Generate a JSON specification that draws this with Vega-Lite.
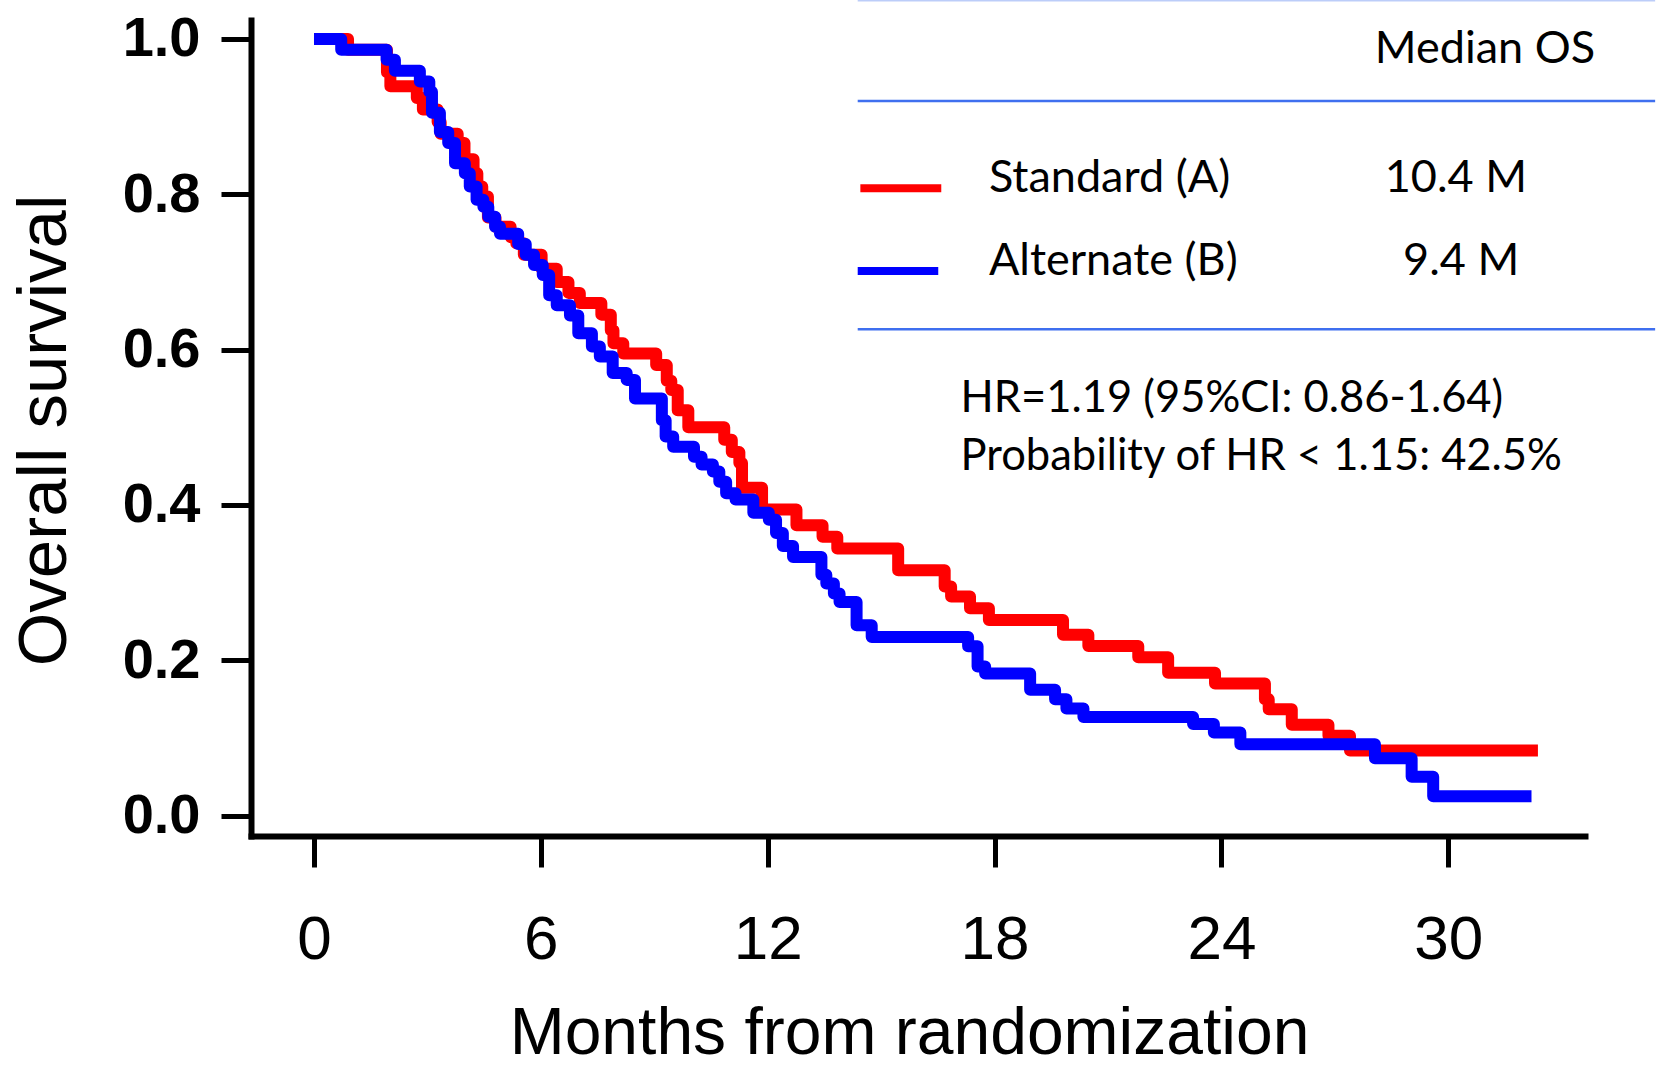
{
  "$schema": "https://vega.github.io/schema/vega-lite/v6.json",
  "autosize": {"type": "none"},
  "padding": {"left": 251, "top": 20, "right": 78, "bottom": 234},
  "width": 1334,
  "height": 816,
  "background": "white",
  "config": {"view": {"stroke": null}},
  "datasets": {
    "red": [
      {"t": 0, "s": 1.0}, {"t": 0.90, "s": 0.986}, {"t": 1.93, "s": 0.957}, {"t": 2.02, "s": 0.939},
      {"t": 2.72, "s": 0.924}, {"t": 2.88, "s": 0.909}, {"t": 3.27, "s": 0.893}, {"t": 3.35, "s": 0.878},
      {"t": 3.80, "s": 0.866}, {"t": 3.98, "s": 0.845}, {"t": 4.22, "s": 0.827}, {"t": 4.32, "s": 0.810},
      {"t": 4.45, "s": 0.797}, {"t": 4.60, "s": 0.770}, {"t": 4.80, "s": 0.758}, {"t": 5.20, "s": 0.745},
      {"t": 5.35, "s": 0.737}, {"t": 5.55, "s": 0.722}, {"t": 6.02, "s": 0.704}, {"t": 6.42, "s": 0.687},
      {"t": 6.73, "s": 0.673}, {"t": 7.03, "s": 0.660}, {"t": 7.60, "s": 0.645}, {"t": 7.85, "s": 0.625},
      {"t": 7.92, "s": 0.608}, {"t": 8.18, "s": 0.595}, {"t": 9.05, "s": 0.580}, {"t": 9.33, "s": 0.560},
      {"t": 9.45, "s": 0.548}, {"t": 9.62, "s": 0.522}, {"t": 9.90, "s": 0.500}, {"t": 10.85, "s": 0.484},
      {"t": 11.05, "s": 0.468}, {"t": 11.25, "s": 0.454}, {"t": 11.32, "s": 0.422}, {"t": 11.85, "s": 0.394},
      {"t": 12.76, "s": 0.374}, {"t": 13.45, "s": 0.359}, {"t": 13.84, "s": 0.344}, {"t": 15.45, "s": 0.316},
      {"t": 16.68, "s": 0.295}, {"t": 16.85, "s": 0.282}, {"t": 17.35, "s": 0.267}, {"t": 17.85, "s": 0.252},
      {"t": 19.81, "s": 0.233}, {"t": 20.48, "s": 0.2185}, {"t": 21.80, "s": 0.204}, {"t": 22.59, "s": 0.184},
      {"t": 23.83, "s": 0.170}, {"t": 25.15, "s": 0.150}, {"t": 25.25, "s": 0.137}, {"t": 25.86, "s": 0.117},
      {"t": 26.83, "s": 0.103}, {"t": 27.40, "s": 0.084}, {"t": 32.37, "s": 0.084}
    ],
    "blue": [
      {"t": 0, "s": 1.0}, {"t": 0.72, "s": 0.986}, {"t": 1.92, "s": 0.973}, {"t": 2.14, "s": 0.959},
      {"t": 2.80, "s": 0.945}, {"t": 3.05, "s": 0.932}, {"t": 3.12, "s": 0.905}, {"t": 3.33, "s": 0.880},
      {"t": 3.55, "s": 0.866}, {"t": 3.73, "s": 0.840}, {"t": 3.99, "s": 0.827}, {"t": 4.12, "s": 0.810},
      {"t": 4.30, "s": 0.793}, {"t": 4.48, "s": 0.784}, {"t": 4.61, "s": 0.771}, {"t": 4.79, "s": 0.758},
      {"t": 4.92, "s": 0.749}, {"t": 5.40, "s": 0.736}, {"t": 5.60, "s": 0.722}, {"t": 5.82, "s": 0.709},
      {"t": 6.05, "s": 0.696}, {"t": 6.22, "s": 0.670}, {"t": 6.42, "s": 0.657}, {"t": 6.77, "s": 0.644},
      {"t": 6.99, "s": 0.621}, {"t": 7.35, "s": 0.604}, {"t": 7.56, "s": 0.591}, {"t": 7.90, "s": 0.570},
      {"t": 8.27, "s": 0.561}, {"t": 8.49, "s": 0.537}, {"t": 9.20, "s": 0.509}, {"t": 9.30, "s": 0.488},
      {"t": 9.50, "s": 0.475}, {"t": 10.05, "s": 0.462}, {"t": 10.25, "s": 0.452}, {"t": 10.55, "s": 0.443},
      {"t": 10.72, "s": 0.430}, {"t": 10.90, "s": 0.415}, {"t": 11.15, "s": 0.407}, {"t": 11.62, "s": 0.390},
      {"t": 12.03, "s": 0.381}, {"t": 12.22, "s": 0.364}, {"t": 12.40, "s": 0.347}, {"t": 12.67, "s": 0.333},
      {"t": 13.42, "s": 0.310}, {"t": 13.55, "s": 0.299}, {"t": 13.75, "s": 0.286}, {"t": 13.90, "s": 0.275},
      {"t": 14.35, "s": 0.245}, {"t": 14.75, "s": 0.230}, {"t": 17.30, "s": 0.218}, {"t": 17.55, "s": 0.192},
      {"t": 17.75, "s": 0.183}, {"t": 18.94, "s": 0.162}, {"t": 19.60, "s": 0.150}, {"t": 19.90, "s": 0.138},
      {"t": 20.35, "s": 0.127}, {"t": 23.25, "s": 0.118}, {"t": 23.80, "s": 0.107}, {"t": 24.50, "s": 0.092},
      {"t": 28.06, "s": 0.074}, {"t": 29.03, "s": 0.050}, {"t": 29.60, "s": 0.025}, {"t": 32.20, "s": 0.025}
    ],
    "tablelines": [
      {"t": 14.38, "t2": 35.47, "s": 0.920},
      {"t": 14.38, "t2": 35.47, "s": 0.6262}
    ],
    "topline": [
      {"t": 14.38, "t2": 35.47, "s": 1.0494}
    ],
    "swatches": [
      {"t": 14.45, "t2": 16.59, "s": 0.8077, "series": "Standard (A)"},
      {"t": 14.38, "t2": 16.51, "s": 0.7012, "series": "Alternate (B)"}
    ],
    "lefttext": [
      {"label": "Standard (A)", "t": 17.85, "s": 0.8029},
      {"label": "Alternate (B)", "t": 17.85, "s": 0.6960}
    ],
    "stattext": [
      {"label": "HR=1.19 (95%CI: 0.86-1.64)", "t": 17.10, "s": 0.5201},
      {"label": "Probability of HR < 1.15: 42.5%", "t": 17.10, "s": 0.4450}
    ],
    "centertext": [
      {"label": "Median OS", "t": 30.97, "s": 0.969},
      {"label": "10.4 M", "t": 30.20, "s": 0.8029},
      {"label": "9.4 M", "t": 30.34, "s": 0.6960}
    ]
  },
  "encoding": {
    "x": {
      "field": "t", "type": "quantitative",
      "scale": {"domain": [-1.666, 33.615], "nice": false, "zero": false},
      "axis": {
        "title": "Months from randomization",
        "values": [0, 6, 12, 18, 24, 30], "format": "d", "grid": false,
        "domainColor": "#000000", "domainWidth": 6, "domainCap": "square",
        "tickColor": "#000000", "tickWidth": 5, "tickSize": 31,
        "labelFont": "Liberation Sans", "labelFontSize": 62, "labelColor": "#000000",
        "labelBaseline": "alphabetic", "labelPadding": 91, "labelFlush": false, "labelOverlap": false,
        "titleFont": "Liberation Sans", "titleFontSize": 66, "titleFontWeight": "normal", "titleColor": "#000000",
        "titleX": 658, "titleY": 217, "titleAlign": "center", "titleBaseline": "alphabetic"
      }
    },
    "y": {
      "field": "s", "type": "quantitative",
      "scale": {"domain": [-0.0262, 1.0243], "nice": false, "zero": false},
      "axis": {
        "title": "Overall survival",
        "values": [0, 0.2, 0.4, 0.6, 0.8, 1], "format": ".1f", "grid": false,
        "domainColor": "#000000", "domainWidth": 6, "domainCap": "square",
        "tickColor": "#000000", "tickWidth": 5, "tickSize": 30,
        "labelFont": "Liberation Sans", "labelFontSize": 56, "labelFontWeight": "bold", "labelColor": "#000000",
        "labelPadding": 21, "labelBaseline": "middle", "labelOverlap": false, "labelFlush": false,
        "titleFont": "Liberation Sans", "titleFontSize": 69, "titleFontWeight": "normal", "titleColor": "#000000",
        "titleAngle": 270, "titleX": -186, "titleY": 410, "titleAlign": "center", "titleBaseline": "alphabetic"
      }
    }
  },
  "layer": [
    {
      "data": {"name": "red"},
      "mark": {"type": "line", "interpolate": "step-after", "color": "#ff0000", "strokeWidth": 12, "strokeJoin": "round", "strokeCap": "butt", "clip": false}
    },
    {
      "data": {"name": "blue"},
      "mark": {"type": "line", "interpolate": "step-after", "color": "#0000ff", "strokeWidth": 12, "strokeJoin": "round", "strokeCap": "butt", "clip": false}
    },
    {
      "data": {"name": "tablelines"},
      "mark": {"type": "rule", "color": "#3f6fef", "strokeWidth": 2.5, "clip": false},
      "encoding": {"x2": {"field": "t2"}}
    },
    {
      "data": {"name": "topline"},
      "mark": {"type": "rule", "color": "#3f6fef", "strokeWidth": 2, "opacity": 0.35, "clip": false},
      "encoding": {"x2": {"field": "t2"}}
    },
    {
      "data": {"name": "swatches"},
      "mark": {"type": "rule", "strokeWidth": 8, "clip": false},
      "encoding": {
        "x2": {"field": "t2"},
        "color": {"field": "series", "type": "nominal", "scale": {"domain": ["Standard (A)", "Alternate (B)"], "range": ["#ff0000", "#0000ff"]}, "legend": null}
      }
    },
    {
      "data": {"name": "lefttext"},
      "mark": {"type": "text", "align": "left", "baseline": "alphabetic", "font": "Lato", "fontSize": 45, "color": "#000000", "clip": false},
      "encoding": {"text": {"field": "label", "type": "nominal"}}
    },
    {
      "data": {"name": "stattext"},
      "mark": {"type": "text", "align": "left", "baseline": "alphabetic", "font": "Lato", "fontSize": 43.5, "color": "#000000", "clip": false},
      "encoding": {"text": {"field": "label", "type": "nominal"}}
    },
    {
      "data": {"name": "centertext"},
      "mark": {"type": "text", "align": "center", "baseline": "alphabetic", "font": "Lato", "fontSize": 45, "color": "#000000", "clip": false},
      "encoding": {"text": {"field": "label", "type": "nominal"}}
    }
  ]
}
